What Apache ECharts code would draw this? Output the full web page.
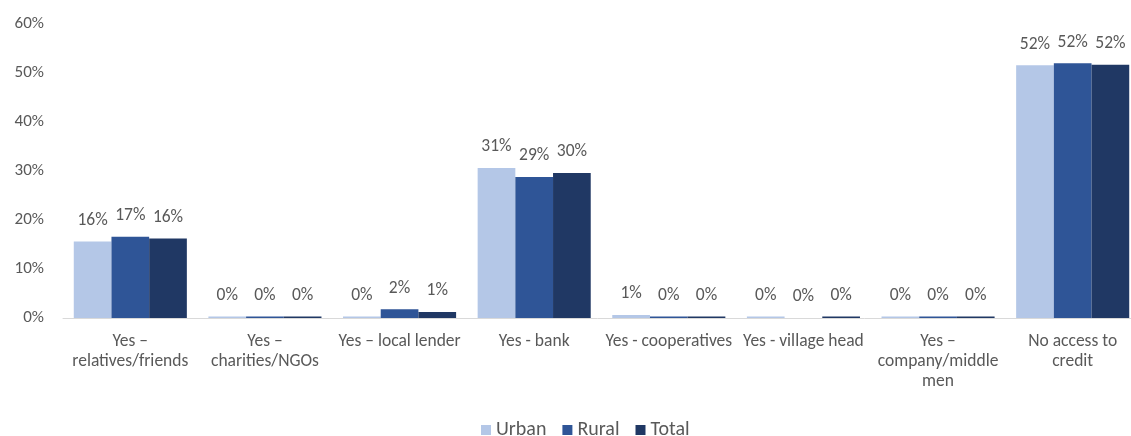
<!DOCTYPE html>
<html>
<head>
<meta charset="utf-8">
<script src="https://cdn.jsdelivr.net/npm/echarts@6/dist/echarts.min.js"></script>
<style>
  html, body { margin: 0; padding: 0; background: #ffffff; overflow: hidden; }
  #chart { width: 1131px; height: 436px; }
</style>
</head>
<body>
<div id="chart"></div>
<script>
// Source of credit categories
const categories = [
  'Yes –\nrelatives/friends',
  'Yes –\ncharities/NGOs',
  'Yes – local lender',
  'Yes - bank',
  'Yes - cooperatives',
  'Yes - village head',
  'Yes –\ncompany/middle\nmen',
  'No access to\ncredit'
];

// Share of households (%) per area
const urban = [15.6, 0.3, 0.3, 30.6, 0.6, 0.3, 0.3, 51.6];
const rural = [16.6, 0.3, 1.8, 28.8, 0.3, 0.0, 0.3, 52.0];
const total = [16.2, 0.3, 1.2, 29.6, 0.3, 0.3, 0.3, 51.7];

const yTicks = [0, 10, 20, 30, 40, 50, 60];

const seriesNames = ['Urban', 'Rural', 'Total'];
const seriesColors = ['#b4c7e7', '#2f5597', '#203864'];

const fontFamily = 'Carlito, Lato, "Open Sans", sans-serif';
const textColor = '#595959';

const chart = echarts.init(document.getElementById('chart'), null, { renderer: 'canvas' });

function makeSeries(name, data, color) {
  return {
    name: name,
    type: 'bar',
    data: data,
    barGap: '0%',
    barCategoryGap: '16%',
    itemStyle: { color: color },
    label: {
      show: true,
      position: 'top',
      distance: 12,
      color: textColor,
      fontFamily: fontFamily,
      fontSize: 17.5,
      formatter: p => Math.round(p.value) + '%'
    }
  };
}

chart.setOption({
  animation: false,
  backgroundColor: '#ffffff',
  // the plot area runs a little past the right edge of the canvas
  grid: {
    left: 63, width: 1077, top: 24, height: 294,
    containLabel: false,
    outerBoundsMode: 'none'
  },
  legend: {
    top: 415,
    left: 476,
    itemWidth: 10,
    itemHeight: 10,
    itemGap: 16,
    icon: 'rect',
    textStyle: { color: textColor, fontFamily: fontFamily, fontSize: 20 },
    data: seriesNames
  },
  xAxis: {
    type: 'category',
    data: categories,
    axisLine: { lineStyle: { color: '#d9d9d9', width: 1 } },
    axisTick: { show: false },
    axisLabel: {
      color: textColor,
      fontFamily: fontFamily,
      fontSize: 17.5,
      lineHeight: 20,
      margin: 14,
      interval: 0
    }
  },
  yAxis: {
    type: 'value',
    min: yTicks[0],
    max: yTicks[yTicks.length - 1],
    interval: 10,
    splitLine: { show: false },
    axisLine: { show: false },
    axisTick: { show: false },
    axisLabel: {
      color: textColor,
      fontFamily: fontFamily,
      fontSize: 17,
      margin: 19,
      formatter: v => v + '%'
    }
  },
  series: [
    makeSeries(seriesNames[0], urban, seriesColors[0]),
    makeSeries(seriesNames[1], rural, seriesColors[1]),
    makeSeries(seriesNames[2], total, seriesColors[2])
  ]
});
</script>
</body>
</html>
